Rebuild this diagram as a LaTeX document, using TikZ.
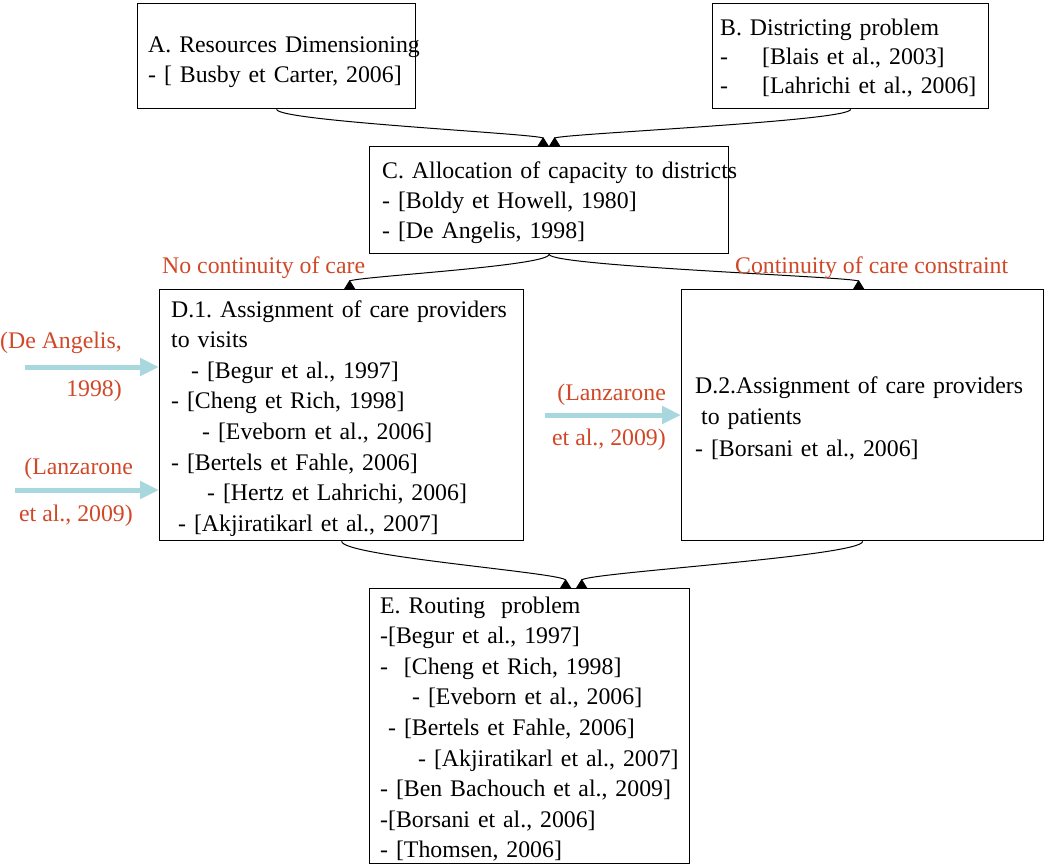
\documentclass[tikz,border=0pt]{standalone}
\usepackage{fontspec}
\setmainfont{Liberation Serif}
\usetikzlibrary{arrows.meta}
\definecolor{labc}{RGB}{208,72,40}
\definecolor{cyanarr}{RGB}{168,216,222}
\begin{document}
\frenchspacing
\begin{tikzpicture}[x=1pt,y=-1pt,
  box/.style={draw=black, line width=1.3pt, inner sep=0pt, anchor=north west},
  txt/.style={anchor=base west, inner sep=0pt, align=left, text width=420pt},
  fnt/.style={font=\fontsize{23.8}{#1}\selectfont},
  lab/.style={inner sep=0pt, text=labc, font=\fontsize{23.8}{28}\selectfont},
  conn/.style={draw=black, line width=1pt, -{Triangle[reversed,length=9pt,width=11pt]}},
  side/.style={draw=cyanarr, line width=5pt, -{Triangle[length=19pt,width=17pt]}}
]
\useasboundingbox (0,0) rectangle (1045,865);

% boxes
\node[box, minimum width=278pt, minimum height=105pt] (A) at (137,3) {};
\node[box, minimum width=276pt, minimum height=105pt] (B) at (712,3) {};
\node[box, minimum width=359pt, minimum height=107pt] (C) at (369,146) {};
\node[box, minimum width=364pt, minimum height=251pt] (D1) at (159,289) {};
\node[box, minimum width=362pt, minimum height=251pt] (D2) at (681,289) {};
\node[box, minimum width=320pt, minimum height=275pt] (E) at (369,588) {};

% texts
\node[txt, fnt=30] (tA) at (148,52) {A. Resources Dimensioning\\- [ Busby et Carter, 2006]};
\node[txt, fnt=29] (tB) at (720,35) {B. Districting problem\\\makebox[42pt][l]{-}[Blais et al., 2003]\\\makebox[42pt][l]{-}[Lahrichi et al., 2006]};
\node[txt, fnt=30] (tC) at (382,178) {C. Allocation of capacity to districts\\- [Boldy et Howell, 1980]\\- [De Angelis, 1998]};
\node[txt, fnt=30.6] (tD1) at (171,317) {D.1. Assignment of care providers\\to visits\\\hspace*{20pt}- [Begur et al., 1997]\\- [Cheng et Rich, 1998]\\\hspace*{31pt}- [Eveborn et al., 2006]\\- [Bertels et Fahle, 2006]\\\hspace*{36pt}- [Hertz et Lahrichi, 2006]\\\hspace*{7pt}- [Akjiratikarl et al., 2007]};
\node[txt, fnt=31.5] (tD2) at (695,393) {D.2.Assignment of care providers\\\hspace*{6pt}to patients\\- [Borsani et al., 2006]};
\node[txt, fnt=30.6] (tE) at (380,613) {E. Routing\ \ problem\\-[Begur et al., 1997]\\-\ \ [Cheng et Rich, 1998]\\\hspace*{32pt}- [Eveborn et al., 2006]\\\hspace*{8pt}- [Bertels et Fahle, 2006]\\\hspace*{38pt}- [Akjiratikarl et al., 2007]\\- [Ben Bachouch et al., 2009]\\-[Borsani et al., 2006]\\- [Thomsen, 2006]};

% connectors
\draw[conn] (A.south) .. controls +(0,12) and +(0,-12) .. ([xshift=-6pt]C.north);
\draw[conn] (B.south) .. controls +(0,12) and +(0,-12) .. ([xshift=5.5pt]C.north);
\draw[conn] (C.south) .. controls +(0,12) and +(0,-12) .. ([xshift=8pt]D1.north);
\draw[conn] (C.south) .. controls +(0,12) and +(0,-12) .. ([xshift=-4pt]D2.north);
\draw[conn] (D1.south) .. controls +(0,15) and +(0,-15) .. ([xshift=36pt]E.north);
\draw[conn] (D2.south) .. controls +(0,15) and +(0,-15) .. ([xshift=52pt]E.north);

% red labels
\node[lab, anchor=base west] (l1) at (162,273) {No continuity of care};
\node[lab, anchor=base west] (l2) at (735,273) {Continuity of care constraint};
\node[lab, anchor=base east] (l3) at (122,348) {(De Angelis,};
\node[lab, anchor=base east] (l4) at (122,396) {1998)};
\node[lab, anchor=base east] (l5) at (133,474) {(Lanzarone};
\node[lab, anchor=base east] (l6) at (133,521) {et al., 2009)};
\node[lab, anchor=base east] (l7) at (666,400) {(Lanzarone};
\node[lab, anchor=base east] (l8) at (666,445) {et al., 2009)};

% cyan arrows
\coordinate (s1) at (25,367);
\coordinate (s2) at (15,490);
\coordinate (s3) at (545,415);
\draw[side] (s1) -- (s1 -| D1.west);
\draw[side] (s2) -- (s2 -| D1.west);
\draw[side] (s3) -- (s3 -| D2.west);
\end{tikzpicture}
\end{document}
